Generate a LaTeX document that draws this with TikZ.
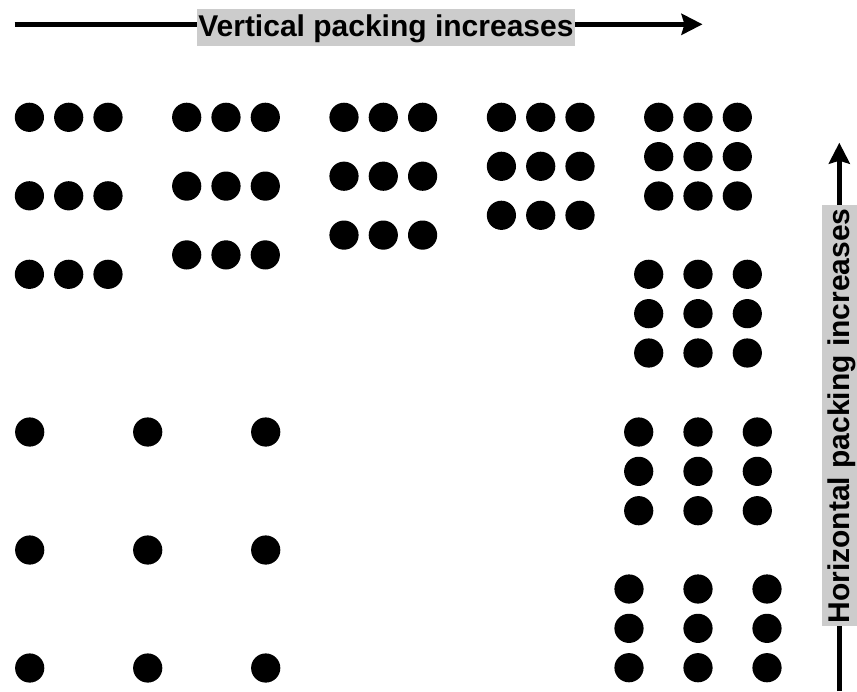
\documentclass[tikz,border=0pt]{standalone}
\usepackage{fontspec}
\setmainfont{Liberation Sans}
\usetikzlibrary{arrows.meta}
\definecolor{labelgray}{RGB}{204,204,204}
\begin{document}
\begin{tikzpicture}[x=1pt,y=-1pt,
  arrowline/.style={line width=4.5pt,-{Stealth[length=21pt,width=21pt,inset=3pt]}},
  graylabel/.style={fill=labelgray,draw=none,font=\bfseries\fontsize{30}{36}\selectfont,
    text height=23.5pt,text depth=5.5pt,inner ysep=4pt},
  pellet/.style={fill=black}]
\useasboundingbox (0,0) rectangle (857,691);
% axes
\coordinate (hs) at (14.7,24.3);
\coordinate (he) at (702.5,24.3);
\coordinate (vs) at (839.3,691);
\coordinate (ve) at (839.3,142.7);
\draw[arrowline] (hs) -- (he);
\draw[arrowline] (vs) -- (ve);
\node[graylabel,inner xsep=1.5pt] (hlabel) at (385.9,27.5) {Vertical packing increases};
\node[graylabel,inner xsep=3pt,rotate=90] (vlabel) at (840.3,415.9) {Horizontal packing increases};
% dot grids: centre column x / top row y / column spacing / row spacing
\foreach \cx/\ty/\dx/\dy in {68.7/117.3/39.3/78.5, 226/117.3/39.3/68.8, 383.3/117.3/39.3/58.9,
  540.7/117.3/39.3/49, 698/117.3/39.3/39.35, 698/274.3/49.3/39.35, 698/432/59.3/39.35,
  698/589/69/39.35, 147.7/432/118/118}{
  \foreach \i in {-1,0,1}{
    \foreach \j in {0,1,2}{
      \fill[pellet] ({\cx+\i*\dx},{\ty+\j*\dy}) circle[radius=14.6pt];
    }
  }
}
\end{tikzpicture}
\end{document}
